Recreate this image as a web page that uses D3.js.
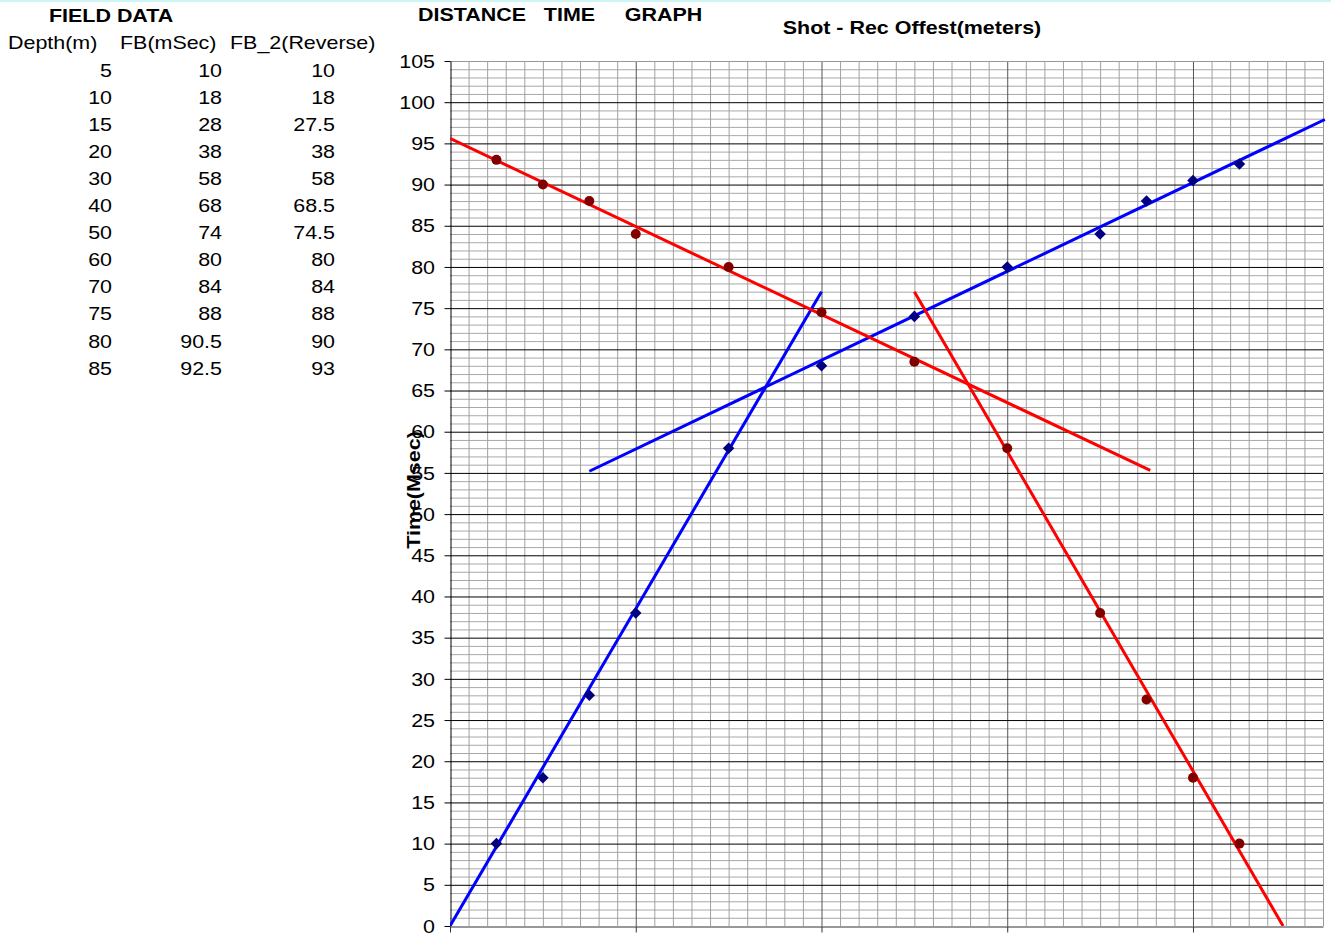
<!DOCTYPE html>
<html><head><meta charset="utf-8">
<script src="https://cdn.jsdelivr.net/npm/d3@7/dist/d3.min.js"></script>
<style>body{margin:0;background:#fff;}svg{display:block;font-family:"Liberation Sans",Arial,sans-serif;}</style>
</head><body><svg id="c" width="1331" height="944"></svg>
<script>
const depths = [5,10,15,20,30,40,50,60,70,75,80,85];
const fbForward = [10,18,28,38,58,68,74,80,84,88,90.5,92.5];
const fbReverse = [10,18,27.5,38,58,68.5,74.5,80,84,88,90,93];
const yTicks = [0,5,10,15,20,25,30,35,40,45,50,55,60,65,70,75,80,85,90,95,100,105];
const xMajor = [0,20,40,60,80];
const spreadLength = 90;
// fitted line segments [x0,y0,x1,y1]
const blueLines = [[0,0,40,77],[15,55.2,94.2,97.9]];
const redLines = [[0,95.6,75.4,55.3],[50,77,89.7,0]];

const svg = d3.select("#c");
const W = 1331;
const x = d3.scaleLinear().domain([0,94]).range([450,1323]);
const y = d3.scaleLinear().domain([0,105]).range([926,61]);

function T(parent, px, py, s, o={}){
  const size=o.size||18.5, sx=o.sx||1.16, rot=o.rot||0;
  return parent.append("text")
    .attr("transform",`translate(${px},${py}) rotate(${rot}) scale(${sx},1)`)
    .attr("font-size",size).attr("font-weight",o.bold?"bold":"normal")
    .attr("text-anchor",o.anchor||"start").attr("dy",o.dy||"0")
    .attr("fill","#000").style("white-space","pre").text(s);
}

svg.append("line").attr("x1",0).attr("x2",W).attr("y1",1).attr("y2",1).attr("stroke","#ccf6f6").attr("stroke-width",2);

// table
T(svg,49,22,"FIELD DATA",{bold:true});
T(svg,8,49,"Depth(m)");
T(svg,120,49,"FB(mSec)");
T(svg,230,49,"FB_2(Reverse)");
depths.forEach((d,i)=>{
  const yy = 76.5 + i*27.1;
  T(svg,112,yy,String(d),{anchor:"end"});
  T(svg,222,yy,String(fbForward[i]),{anchor:"end"});
  T(svg,335,yy,String(fbReverse[i]),{anchor:"end"});
});

T(svg,418,21,"DISTANCE   TIME     GRAPH",{bold:true});
T(svg,912,34,"Shot - Rec Offest(meters)",{bold:true,anchor:"middle"});

// grid
const grid = svg.append("g");
d3.range(0,106,1).forEach(v=>{
  if (v%5===0) return;
  grid.append("line").attr("x1",x(0)).attr("x2",x(94)).attr("y1",y(v)+0.5).attr("y2",y(v)+0.5).attr("stroke","#a8a8a8").attr("stroke-width",1);
});
d3.range(2,95,2).forEach(v=>{
  if (v%20===0) return;
  grid.append("line").attr("x1",x(v)+0.5).attr("x2",x(v)+0.5).attr("y1",y(0)).attr("y2",y(105)).attr("stroke","#a0a0a0").attr("stroke-width",1);
});
xMajor.forEach(v=>{
  if (v===0) return;
  grid.append("line").attr("x1",x(v)+0.5).attr("x2",x(v)+0.5).attr("y1",y(0)).attr("y2",y(105)).attr("stroke","#555").attr("stroke-width",1);
});
yTicks.forEach(v=>{
  if (v===0) return;
  grid.append("line").attr("x1",x(0)).attr("x2",x(94)).attr("y1",y(v)+0.5).attr("y2",y(v)+0.5).attr("stroke", v===105?"#999":"#000").attr("stroke-width",1);
});
grid.append("line").attr("x1",x(94)+0.5).attr("x2",x(94)+0.5).attr("y1",y(0)).attr("y2",y(105)).attr("stroke","#999");

// axes
const yAxis = d3.axisLeft(y).tickValues(yTicks).tickSize(6).tickSizeOuter(0).tickFormat("");
const ya = svg.append("g").attr("transform",`translate(${x(0)+0.5},0)`).call(yAxis);
ya.selectAll("line").attr("stroke","#000");
ya.select(".domain").attr("stroke","#000");
yTicks.forEach(v=>T(svg,435,y(v),String(v),{anchor:"end",dy:"0.36em"}));
const xAxis = d3.axisBottom(x).tickValues(xMajor).tickSize(6).tickSizeOuter(0).tickFormat("");
const xa = svg.append("g").attr("transform",`translate(0,${y(0)+0.5})`).call(xAxis);
xa.selectAll("line").attr("stroke","#333");
xa.select(".domain").attr("stroke","#333");

T(svg,420,490,"Time(Msec)",{bold:true,anchor:"middle",rot:-90});

// lines
svg.append("clipPath").attr("id","pa").append("rect").attr("x",x(0)).attr("y",y(105)).attr("width",x(94)-x(0)+4).attr("height",y(0)-y(105));
const lg = svg.append("g").attr("clip-path","url(#pa)");
blueLines.forEach(l=>lg.append("line").attr("x1",x(l[0])).attr("y1",y(l[1])).attr("x2",x(l[2])).attr("y2",y(l[3])).attr("stroke","#0000ff").attr("stroke-width",3));
redLines.forEach(l=>lg.append("line").attr("x1",x(l[0])).attr("y1",y(l[1])).attr("x2",x(l[2])).attr("y2",y(l[3])).attr("stroke","#ff0000").attr("stroke-width",3));

// points
const diamond = d3.symbol().type(d3.symbolDiamond2).size(85);
svg.append("g").selectAll("path").data(depths).join("path")
  .attr("d",diamond).attr("transform",(d,i)=>`translate(${x(d)},${y(fbForward[i])})`).attr("fill","#000080");
svg.append("g").selectAll("circle").data(depths).join("circle")
  .attr("cx",d=>x(spreadLength-d)).attr("cy",(d,i)=>y(fbReverse[i])).attr("r",5).attr("fill","#800000");
</script></body></html>
